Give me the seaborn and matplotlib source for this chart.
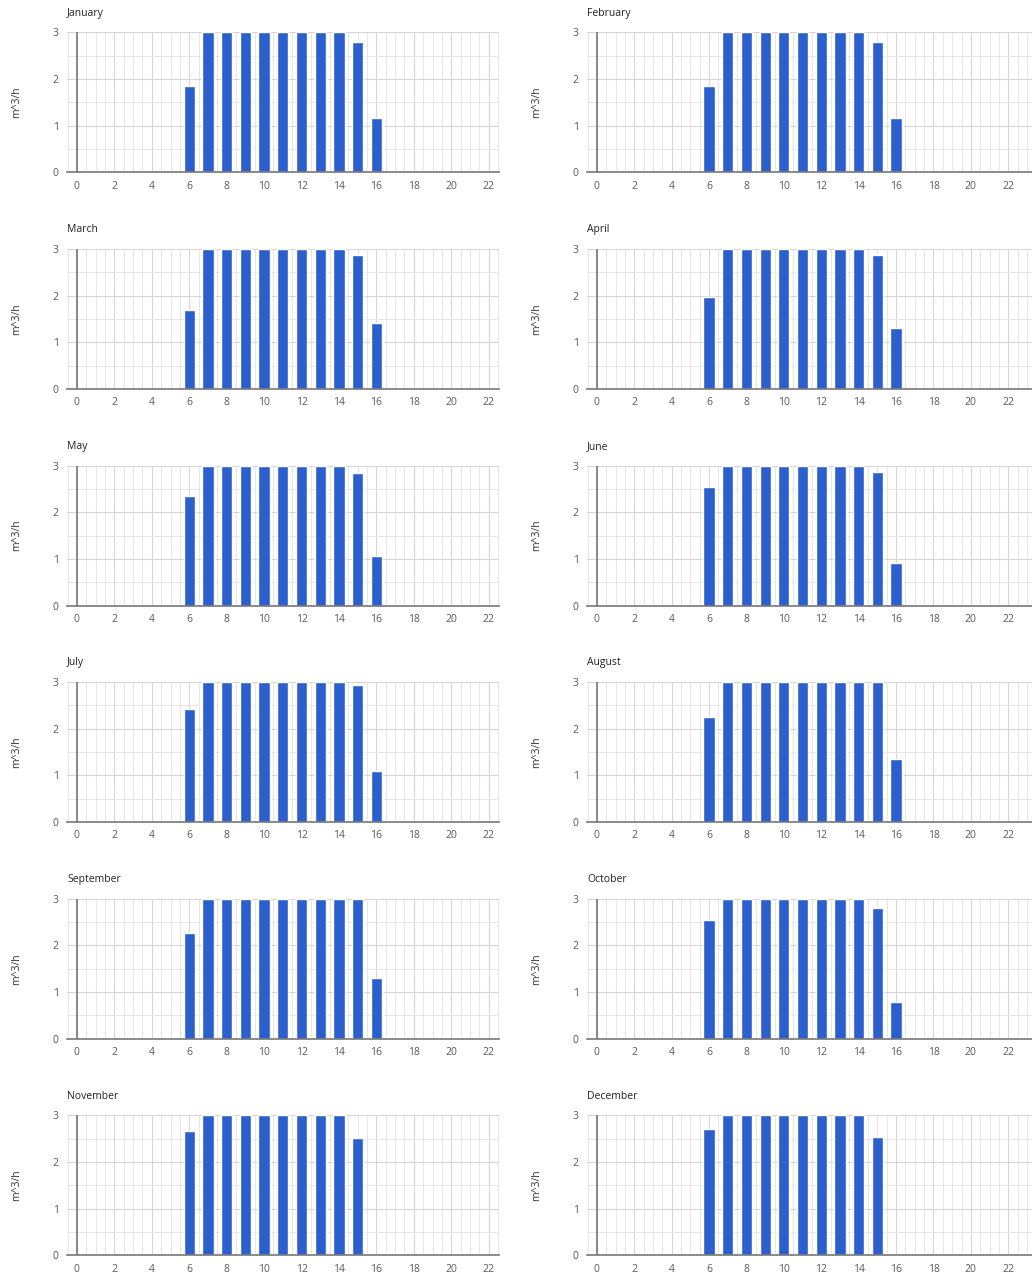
import numpy as np
import pandas as pd
import matplotlib
matplotlib.use('Agg')
import matplotlib.pyplot as plt
import seaborn as sns
from matplotlib.ticker import MultipleLocator

# data: flow per hour (m^3/h)
hours = list(range(24))
months = ['January', 'February', 'March', 'April', 'May', 'June',
          'July', 'August', 'September', 'October', 'November', 'December']

# hours 6..16, all other hours are 0
jan = [1.85, 3, 3, 3, 3, 3, 3, 3, 3, 2.79, 1.16]
feb = [1.85, 3, 3, 3, 3, 3, 3, 3, 3, 2.79, 1.16]
mar = [1.69, 3, 3, 3, 3, 3, 3, 3, 3, 2.87, 1.42]
apr = [1.96, 3, 3, 3, 3, 3, 3, 3, 3, 2.87, 1.31]
may = [2.35, 3, 3, 3, 3, 3, 3, 3, 3, 2.84, 1.06]
jun = [2.55, 3, 3, 3, 3, 3, 3, 3, 3, 2.86, 0.92]
jul = [2.42, 3, 3, 3, 3, 3, 3, 3, 3, 2.93, 1.09]
aug = [2.26, 3, 3, 3, 3, 3, 3, 3, 3, 3.0, 1.36]
sep = [2.26, 3, 3, 3, 3, 3, 3, 3, 3, 3.0, 1.29]
okt = [2.54, 3, 3, 3, 3, 3, 3, 3, 3, 2.79, 0.79]
nov = [2.67, 3, 3, 3, 3, 3, 3, 3, 3, 2.51, 0.0]
dec = [2.71, 3, 3, 3, 3, 3, 3, 3, 3, 2.54, 0.0]
day_values = [jan, feb, mar, apr, may, jun, jul, aug, sep, okt, nov, dec]
first_hour = 6

sns.set_style('white')
plt.rcParams['font.family'] = ['Open Sans', 'DejaVu Sans']

W, H = 1032, 1278
fig = plt.figure(figsize=(W / 100, H / 100), dpi=100)

bar_color = '#2b5fcd'

for i, (name, vals) in enumerate(zip(months, day_values)):
    row, col = divmod(i, 2)
    top = 32.3 + 216.6 * row
    if col == 0:
        left, width = 67, 432
        xmax = 22.55
    else:
        left, width = 587, 445
        xmax = 23.27
    ax = fig.add_axes([left / W, 1 - (top + 140) / H, width / W, 140 / H])

    y = [0.0] * 24
    for k, v in enumerate(vals):
        y[first_hour + k] = v
    df = pd.DataFrame({'hour': hours, 'flow': y})
    sns.barplot(data=df, x='hour', y='flow', ax=ax, color=bar_color,
                width=0.6, native_scale=True, saturation=1)

    ax.set_xlim(-0.53, xmax)
    ax.set_ylim(0, 3)
    ax.xaxis.set_major_locator(MultipleLocator(2))
    ax.xaxis.set_minor_locator(MultipleLocator(0.5))
    ax.yaxis.set_major_locator(MultipleLocator(1))
    ax.yaxis.set_minor_locator(MultipleLocator(0.5))
    ax.grid(True, which='major', color='#d6d6d6', lw=0.8)
    ax.grid(True, which='minor', color='#e6e6e6', lw=0.7)
    ax.set_axisbelow(True)
    ax.tick_params(which='both', length=0, labelsize=7.5, colors='#595959', pad=6)

    for s in ['top', 'right', 'left']:
        ax.spines[s].set_visible(False)
    ax.spines['bottom'].set_color('#777777')
    ax.spines['bottom'].set_linewidth(1.2)
    ax.axvline(0, color='#777777', lw=1.2, zorder=1)

    ax.set_xlabel('')
    ax.set_ylabel('m^3/h', fontsize=7.5, color='#333333')
    ax.yaxis.set_label_coords(-45 / width, 0.5)
    ax.set_title(name, loc='left', fontsize=7.5, color='#222222', pad=12, x=0)

fig.savefig('out.png', dpi=100)
